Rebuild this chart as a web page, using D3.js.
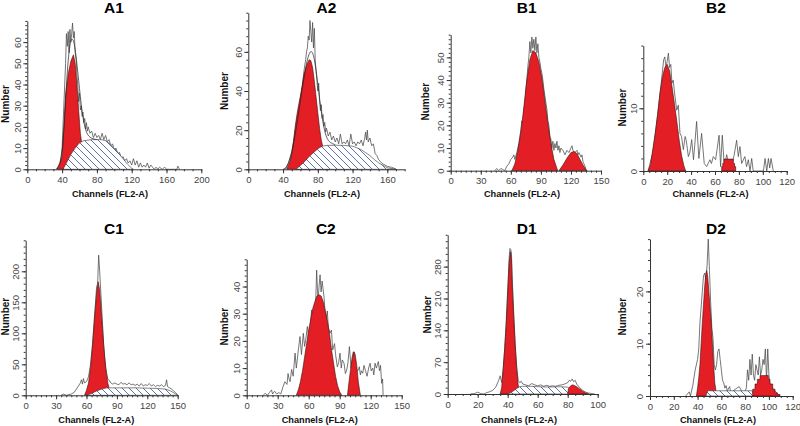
<!DOCTYPE html>
<html><head><meta charset="utf-8">
<script src="https://cdn.jsdelivr.net/npm/d3@7"></script>
<style>body{margin:0;background:#fff}svg{display:block}</style>
</head><body><svg id="c" width="800" height="426"></svg>
<script>
// ---------- DATA (channel, count) ----------
const a1Raw = [[34,0],[36,1],[38,3],[40,10],[42,30],[44,50],[45,64],[46,58],[47,65],[48,55],[49,66],[50,60],[51,64],[52,69],[53,62],[54,65],[55,55],[56,52],[57,45],[58,40],[59,32],[60,36],[61,28],[62,30],[63,25],[64,27],[65,22],[66,24],[67,19],[68,22],[69,18],[70,20],[72,17],[74,18],[76,15],[78,17],[80,15],[82,16],[84,14],[86,17],[88,14],[90,16],[92,13],[94,14],[96,11],[98,12],[100,9],[102,10],[104,7],[106,8],[108,5],[110,6],[112,4],[114,5],[116,3],[118,4],[120,2],[122,5],[124,2],[126,4],[128,1],[130,3],[132,1],[134,2],[136,1],[138,3],[140,0.5],[142,2],[144,1],[146,0],[148,1],[150,0],[152,1],[155,0],[158,1],[160,0],[172,0],[173,1.5],[175,0]];
const a1Fit = [[33,0],[36,1.5],[39,5],[41,12],[43,25],[45,40],[47,52],[49,59],[51,62],[53,61],[55,57],[57,50],[59,42],[61,34],[63,27],[65,22],[67,18.5],[69,16.5],[72,15],[76,14.3],[80,14]];
const a1G1 = [[34,0],[37,2],[40,6],[42,20],[44,35],[47,45],[50,51],[53,54],[55,50],[57,40],[59,28],[61,17],[63,11],[66,4],[70,0]];
const a1S = [[41,0],[45,3],[50,7],[55,10],[60,12.5],[65,13.5],[75,14],[85,14],[90,13.5],[95,12],[100,10],[105,7.5],[110,5],[115,2.5],[120,0.5],[122,0]];

const a2Raw = [[40,0],[44,1],[46,3],[48,6],[50,9],[52,14],[54,20],[56,25],[58,30],[60,36],[62,42],[64,50],[66,56],[67,60],[68,62],[69,68],[70,66],[71,76],[72,70],[73,65],[74,75],[75,62],[76,72],[77,56],[78,50],[79,45],[80,40],[81,44],[82,35],[83,30],[84,33],[85,26],[86,28],[87,22],[88,24],[89,19],[90,21],[92,17],[94,19],[96,15],[98,17],[100,14],[102,16],[104,13],[106,18],[108,13],[110,14],[112,13],[114,15],[116,12],[118,18],[120,13],[122,14],[124,12],[126,14],[128,13],[130,15],[132,12],[134,16],[135,19],[136,15],[137,20],[138,14],[140,16],[142,12],[144,13],[146,8],[148,7],[150,5],[152,4],[154,3],[156,2.5],[160,1.5],[165,1],[168,0.5],[170,0]];
const a2Fit = [[42,0],[45,2],[48,5],[51,10],[54,18],[57,26],[60,35],[63,44],[66,52],[69,58],[72,61],[75,59],[78,51],[81,40],[84,29],[87,21],[90,16],[94,13.5],[100,12.6]];
const a2G1 = [[44,0],[46,2],[48,4],[50,8],[52,14],[54,22],[56,28],[58,33],[61,40],[64,48],[67,53],[70,56],[72,55.5],[74,52],[76,45],[78,37],[80,29],[82,21],[84,15],[86,11],[88,6],[90,3],[93,0]];
const a2S = [[55,0],[60,2],[65,4],[70,6.5],[75,8.5],[80,10.5],[85,11.8],[90,12.2],[100,12.3],[110,12.2],[120,11.8],[125,11],[130,10],[135,8.5],[140,7],[145,5],[150,3.3],[155,2],[160,0.8],[166,0.3],[170,0]];

const b1Raw = [[44,0],[46,1],[48,0],[50,1],[52,0.5],[54,0],[56,2],[58,3],[60,5],[62,6],[63,7],[64,5],[66,8],[68,12],[70,18],[71,22],[72,20],[73,27],[74,30],[75,36],[76,40],[77,46],[78,50],[79,57],[80,52],[81,59],[82,54],[83,58],[84,53],[85,59],[86,52],[87,56],[88,50],[89,48],[90,45],[91,43],[92,40],[93,36],[94,33],[95,30],[96,27],[97,22],[98,20],[99,15],[100,14],[101,10],[102,13],[103,9],[104,12],[105,10],[106,13],[107,9],[108,11],[109,8],[110,10],[112,9],[114,7],[116,9],[118,8],[120,10],[121,11],[122,9],[124,8],[126,9],[127,7],[128,8],[130,6],[131,7],[132,4],[133,3],[134,2],[135,0.5],[136,0]];
const b1G1 = [[61,0],[64,3],[67,9],[70,17],[73,28],[76,40],[79,49],[82,53],[85,52],[88,48],[91,41],[94,31],[97,21],[100,12],[103,5],[106,1],[107,0]];
const b1G2 = [[108,0],[112,2.5],[116,5.5],[120,8],[123,8.5],[126,7.5],[129,5],[132,2.5],[135,0.5],[136,0]];

const b2Raw = [[4,0],[8,3],[12,9],[15,14],[17,17.7],[18,18.2],[19,16.5],[20,17.5],[21,18.8],[22,16.5],[23,17],[24,14],[25,14.5],[26.5,11.9],[28,9.7],[29.3,10.5],[30.7,6],[32,5.5],[33.5,3.4],[35,5.5],[36,4.8],[37.7,2.3],[39,3],[40.5,5],[42,1.8],[43,4],[44.6,7.9],[46.5,2],[48.8,6],[51,1.2],[53,0.7],[55.8,1.8],[57,1.2],[58.6,2.3],[60.5,1.8],[63.4,5.7],[64.7,0.7],[66.1,5.7],[67.8,0.7],[69.8,2.6],[71.2,1.2],[74,1],[76,2.5],[78.1,4.9],[79.5,2.3],[80.9,3.9],[82.3,1.2],[85,2.3],[86.4,0.7],[87.9,1.8],[89.3,0],[90.7,2],[92,0],[100.5,0],[101.9,2],[103.3,0],[104.7,2],[105.8,0.5],[106.9,2],[108.8,0]];
const b2G1 = [[4,0],[6,1],[8,3.5],[10,6],[12,9],[14,12.5],[16,15],[18,16.5],[20,17],[22,16],[24,13.5],[26,10.8],[28,8],[30,5],[32,2.5],[34,0.8],[35.5,0]];
const b2G2 = [[65.6,0.7],[66.5,1.2],[67.5,1.9],[75.4,1.2],[76.4,0.7],[77.3,0]];

const c1Raw = [[35,0],[37,2],[40,0],[45,2],[48,5],[50,10],[52,15],[54,20],[55,25],[56,18],[57,27],[58,20],[60,22],[62,30],[64,50],[66,85],[68,130],[70,175],[71,180],[72,226],[73,200],[74,170],[75,140],[76,110],[77,80],[78,60],[79,45],[80,35],[81,26],[82,25],[84,20],[86,18],[88,20],[90,18],[92,17],[94,21],[96,18],[98,19],[100,17],[102,20],[104,17],[106,18],[108,16],[110,18],[112,15],[114,19],[116,15],[118,17],[120,16],[122,19],[124,15],[126,17],[128,14],[130,16],[132,15],[134,17],[136,14],[138,16],[139,25],[140,14],[142,12],[144,10],[146,7],[148,4],[150,1]];
const c1G1 = [[58,0],[60,8],[62,20],[64,45],[66,80],[68,125],[70,165],[71.5,183],[73,170],[75,125],[77,80],[79,42],[81,20],[83,8],[85,2],[87,0]];
const c1S = [[60,0],[65,3],[70,7],[75,10],[80,12],[90,12],[100,12],[110,12],[120,11.5],[130,11],[138,10],[143,7],[147,3],[150,0]];

const c2Raw = [[16,0],[18,0.8],[20,0],[22,1],[24,2],[25,0.5],[27,1.5],[29,0.5],[31,1],[33,0.5],[35,3],[37,5],[39,4],[40,8],[41,6],[42,5],[43.5,9.5],[45,7],[46.8,15.5],[48,10],[50,16.7],[51.6,21.6],[53,15],[54.8,22.8],[56,18],[57,20],[58.7,25.3],[60,21],[61,24],[62.9,31.4],[64,27],[65,30],[66,25],[67.7,46],[69,34],[70,40],[71,44.3],[72,38],[73,42],[74.8,36.3],[76,30],[76.8,27.7],[78,31],[79,25],[80.6,22.8],[82,24],[83.2,16.7],[85,19],[86,15],[87.7,10.5],[89,12],[90.3,15.5],[91.5,10],[92.5,13],[94.2,11.8],[95.5,8],[96.8,9.3],[98,12],[99.4,17.9],[101,10],[102,14],[103.2,16],[105,11],[106,9],[108,9.3],[109,10.5],[110,7.5],[111,9],[112.3,8.1],[113.5,11],[115,9],[116.5,7],[118,10],[119.4,11.8],[120.5,9],[122,10],[123,7.5],[124.2,11.8],[125.5,10],[127.4,12.4],[128.5,9],[129.5,11],[130.6,4.4],[131.5,6],[132,0]];
const c2G1 = [[48,0],[50,2],[52,5],[54,9],[56,14],[58,19],[60,24],[62,28],[64,32],[66,34.5],[68,36.5],[70,37],[72,36.5],[74,34.5],[76,31],[78,27.5],[80,23],[82,17],[84,12],[86,7],[88,3.5],[90,1.3],[92,0]];
const c2G2 = [[97.5,0],[99,5],[101,11],[103,15],[104,16],[105,15],[106.5,11],[108,5],[110,0]];

const d1Raw = [[15,0],[18,1],[20,4],[22,1],[24,0],[26,3],[28,5],[30,8],[32,15],[34,30],[35,40],[36,25],[37,55],[38,100],[39,160],[40,230],[41,300],[41.5,320],[42,318],[42.5,310],[43,260],[44,180],[45,110],[46,60],[47,30],[48,25],[49,28],[50,22],[52,20],[54,18],[56,23],[58,20],[60,18],[62,20],[64,17],[66,19],[68,17],[70,18],[72,17],[74,19],[76,20],[78,22],[80,25],[81,30],[82,28],[83,33],[84,27],[85,30],[86,22],[88,14],[90,8],[92,4],[94,2],[96,1],[98,0]];
const d1G1 = [[35,0],[36,15],[37,55],[38,100],[39,150],[40,220],[41,290],[41.8,313],[42.5,295],[43,240],[44,170],[45,105],[46,55],[47,20],[48,5],[49,0]];
const d1G2 = [[80,0],[80.5,12],[82,18],[83,20],[84,19.5],[86,16],[88,11],[90,6],[92,2],[94,0]];
const d1S = [[40,0],[43,5],[46,12],[48,16],[50,17],[55,17],[60,16],[65,15.5],[70,15.5],[75,16],[80,15],[82,10],[84,4],[86,0]];

const d2Raw = [[30,0],[33,0.8],[34,0],[36,2],[38,5],[40,7],[41,9],[42,14],[43,17],[44,20],[45,23],[46,23.5],[47,22],[48,25],[49,30],[50,24],[51,18],[52,13],[53,11],[54,6],[55,5],[56,6],[57,8.5],[58,9],[59,7],[60,5],[61,3],[62,2.5],[63,1.5],[64,2],[65,1],[67,1.8],[68,0.5],[70,1],[73,1.5],[75,1.8],[77,1],[79,0.5],[81,1.5],[82,5],[83,3],[84,7],[85,4],[86,8],[87,4],[88,3],[89,6],[90,5],[91,4],[92,7.5],[93,4],[94,5],[95,7],[96,6],[97,9],[98,3],[99,9],[100,4],[101,2],[103,1.5],[105,1],[107,0.5],[109,0]];
const d2G1 = [[39,0],[40,1.5],[41,3.5],[42,6],[43,10],[44,14],[45,17.5],[46,21],[47,23.5],[47.7,24],[48.5,23],[49.5,20],[50.5,17],[51.5,14],[52.5,10],[53.5,6],[54.5,2.5],[55.5,1],[57,0]];
const d2G2 = [[86.4,1.3],[88.3,2.3],[90.3,3.2],[92.5,3.9],[99.5,3.2],[100.9,2.3],[103.2,1.3],[105.1,0.6],[107.1,0.3],[109.3,0]];
const d2S = [[47,0],[48.5,1],[86,1],[87,0]];

// tick labels
const a1XTicks = [0,40,80,120,160,200], a1YTicks = [0,10,20,30,40,50,60];
const a2XTicks = [0,40,80,120,160],     a2YTicks = [0,20,40,60];
const b1XTicks = [0,30,60,90,120,150],  b1YTicks = [0,10,20,30,40,50];
const b2XTicks = [0,20,40,60,80,100,120], b2YTicks = [0,10];
const c1XTicks = [0,30,60,90,120,150],  c1YTicks = [0,50,100,150,200];
const c2XTicks = [0,30,60,90,120,150],  c2YTicks = [0,10,20,30,40];
const d1XTicks = [0,20,40,60,80,100],   d1YTicks = [0,70,140,210,280];
const d2XTicks = [0,20,40,60,80,100,120], d2YTicks = [0,10,20];
const titles = ["A1","A2","B1","B2","C1","C2","D1","D2"];
const xLabel = "Channels (FL2-A)", yLabel = "Number";

// ---------- LAYOUT ----------
const panels = [
 {raw:a1Raw, fit:a1Fit, g1:a1G1, s:a1S, xDom:[0,200], yDom:[0,70], xT:a1XTicks, yT:a1YTicks, xm:10, ym:2, px:[27.3,201.3], py:[169.3,20.9], t:[114,12.5], xl:[110,196.7], yl:[5.6,104]},
 {raw:a2Raw, fit:a2Fit, g1:a2G1, s:a2S, xDom:[0,180], yDom:[0,80], xT:a2XTicks, yT:a2YTicks, xm:10, ym:4, px:[248.3,404.7], py:[169.3,12.7], t:[326.5,12.5], xl:[322,196.7], yl:[224.5,91]},
 {raw:b1Raw, g1:b1G1, g2:b1G2, xDom:[0,150], yDom:[0,60], xT:b1XTicks, yT:b1YTicks, xm:5, ym:2, px:[450.7,601], py:[170.7,34.7], t:[526.7,12.5], xl:[522,196.7], yl:[425.5,101.7]},
 {raw:b2Raw, g1:b2G1, g2:b2G2, g2step:true, xDom:[0,120], yDom:[0,20], xT:b2XTicks, yT:b2YTicks, xm:5, ym:2, px:[643.3,786.7], py:[171,45.6], t:[716,12.5], xl:[710.5,196.7], yl:[622.5,107.5]},
 {raw:c1Raw, g1:c1G1, s:c1S, xDom:[0,150], yDom:[0,250], xT:c1XTicks, yT:c1YTicks, xm:5, ym:10, px:[25.7,177.7], py:[395.3,240.3], t:[114,233.5], xl:[96.3,423.3], yl:[5.6,316.7]},
 {raw:c2Raw, g1:c2G1, g2:c2G2, xDom:[0,150], yDom:[0,50], xT:c2XTicks, yT:c2YTicks, xm:5, ym:2, px:[246.7,401.7], py:[395.3,259.3], t:[325.8,233.5], xl:[319.7,423.3], yl:[224.5,326.7]},
 {raw:d1Raw, g1:d1G1, g2:d1G2, s:d1S, xDom:[0,100], yDom:[0,350], xT:d1XTicks, yT:d1YTicks, xm:5, ym:14, px:[447.7,597.7], py:[394,234.8], t:[526.7,233.5], xl:[519,423.3], yl:[427,314.7]},
 {raw:d2Raw, g1:d2G1, g2:d2G2, g2step:true, s:d2S, xDom:[0,120], yDom:[0,30], xT:d2XTicks, yT:d2YTicks, xm:5, ym:2, px:[650,792.7], py:[396,239.1], t:[716,233.5], xl:[718,423.3], yl:[622.5,316.7]}
];

const svg = d3.select("#c");
const defs = svg.append("defs");
const pat = defs.append("pattern").attr("id","hatch").attr("patternUnits","userSpaceOnUse")
  .attr("width",7).attr("height",7);
pat.append("rect").attr("width",7).attr("height",7).attr("fill","#fff");
pat.append("path").attr("d","M0,0L7,7M-1,6L1,8M6,-1L8,1").attr("stroke","#4f63a3").attr("stroke-width",0.9);

const RED = "#e31e24", OUT = "#3a1212";
const tickFont = "'Liberation Sans Narrow','Arial Narrow','Liberation Sans',Arial,sans-serif";
const boldFont = "'Liberation Sans',Arial,Helvetica,sans-serif";

panels.forEach((p,i) => {
  const g = svg.append("g");
  const x = d3.scaleLinear().domain(p.xDom).range(p.px);
  const y = d3.scaleLinear().domain(p.yDom).range(p.py);
  const line = d3.line().x(d=>x(d[0])).y(d=>y(d[1]));
  const area = d3.area().x(d=>x(d[0])).y0(y(0)).y1(d=>y(d[1]));

  // raw histogram
  g.append("path").attr("d", line(p.raw)).attr("fill","none")
    .attr("stroke","#4a4a4a").attr("stroke-width",0.75).attr("stroke-linejoin","round");
  // G1 peak
  g.append("path").attr("d", area(p.g1)).attr("fill",RED).attr("stroke",OUT).attr("stroke-width",0.6);
  // S phase
  if (p.s) g.append("path").attr("d", area(p.s)).attr("fill","url(#hatch)").attr("stroke","#333").attr("stroke-width",0.6);
  // G2 peak
  if (p.g2) {
    const a2 = p.g2step ? area.curve(d3.curveStepAfter) : area;
    g.append("path").attr("d", a2(p.g2)).attr("fill",RED).attr("stroke",OUT).attr("stroke-width",0.6);
    area.curve(d3.curveLinear);
  }
  // fit envelope
  if (p.fit) g.append("path").attr("d", line.curve(d3.curveBasis)(p.fit)).attr("fill","none")
    .attr("stroke","#222").attr("stroke-width",0.7);

  // axes
  const ax = g.append("g").attr("transform",`translate(0,${y(0)})`)
    .call(d3.axisBottom(x).tickValues(p.xT).tickSize(4).tickSizeOuter(0).tickPadding(3));
  ax.selectAll("text").attr("font-family",tickFont).attr("font-size",9.5).attr("fill","#444");
  g.append("g").attr("transform",`translate(0,${y(0)})`)
    .call(d3.axisBottom(x).tickValues(d3.range(p.xDom[0],p.xDom[1]+0.001,p.xm)).tickSize(2).tickSizeOuter(0).tickFormat(""))
    .select(".domain").remove();
  const ay = g.append("g").attr("transform",`translate(${x(0)},0)`)
    .call(d3.axisLeft(y).tickValues(p.yT).tickSize(4).tickSizeOuter(0));
  ay.selectAll("text").attr("font-family",tickFont).attr("font-size",9.5).attr("fill","#444")
    .attr("text-anchor","middle").attr("x",0).attr("dy",0).attr("transform","translate(-6.6,0) rotate(-90)");
  g.append("g").attr("transform",`translate(${x(0)},0)`)
    .call(d3.axisLeft(y).tickValues(d3.range(p.yDom[0],p.yDom[1]+0.001,p.ym)).tickSize(2).tickSizeOuter(0).tickFormat(""))
    .select(".domain").remove();
  g.selectAll(".domain, .tick line").attr("stroke","#333");

  // texts
  svg.append("text").attr("x",p.t[0]).attr("y",p.t[1]).attr("text-anchor","middle")
    .attr("font-family",boldFont).attr("font-weight","bold").attr("font-size",15.5).attr("fill","#000").text(titles[i]);
  svg.append("text").attr("x",p.xl[0]).attr("y",p.xl[1]).attr("text-anchor","middle")
    .attr("font-family",boldFont).attr("font-weight","bold").attr("font-size",9.2).attr("fill","#111").text(xLabel);
  svg.append("text").attr("transform",`translate(${p.yl[0]+3.6},${p.yl[1]}) rotate(-90)`).attr("text-anchor","middle")
    .attr("font-family",boldFont).attr("font-weight","bold").attr("font-size",10).attr("fill","#111").text(yLabel);
});
</script></body></html>
